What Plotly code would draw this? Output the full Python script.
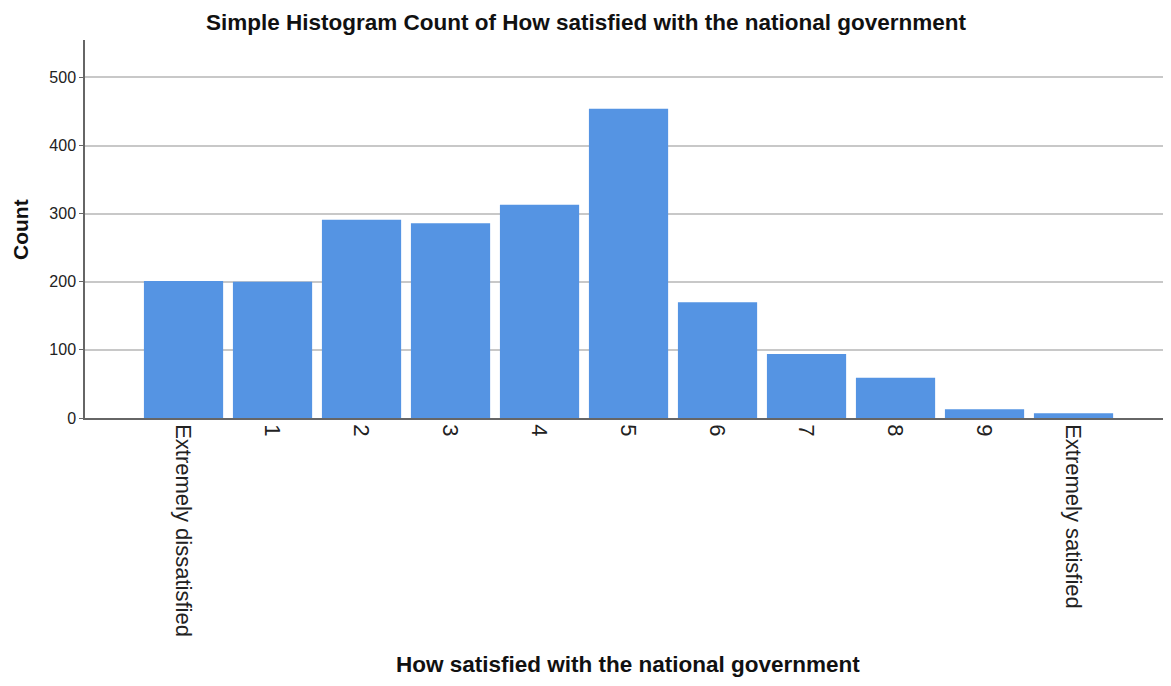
import plotly.graph_objects as go

categories = ["Extremely dissatisfied", "1", "2", "3", "4", "5", "6", "7", "8", "9", "Extremely satisfied"]
counts = [201, 200, 291, 286, 313, 454, 170, 94, 59, 13, 7]
y_ticks = [0, 100, 200, 300, 400, 500]

FW, FH = 1155, 670
L, T, B, R = 77, 32, 260, 0
PW = FW - L - R
PH = FH - T - B

fig = go.Figure(go.Bar(
    x=list(range(len(categories))),
    y=counts,
    marker=dict(color="#5594E3", line=dict(width=0)),
    width=0.89,
))

fig.update_layout(
    width=FW, height=FH,
    margin=dict(l=L, r=R, t=T, b=B),
    plot_bgcolor="white", paper_bgcolor="white",
    font=dict(family="Liberation Sans, Arial, sans-serif", color="#222"),
    title=dict(text="<b>Simple Histogram Count of How satisfied with the national government</b>",
               x=(586 - 8) / FW, xanchor="center", y=1 - 14 / FH, yanchor="middle",
               font=dict(size=22.5, color="#111")),
    showlegend=False,
)

fig.update_xaxes(
    range=[-1.107, -1.107 + PW / 89],
    tickmode="array",
    tickvals=list(range(len(categories))),
    ticktext=categories,
    tickangle=90,
    tickfont=dict(size=22, color="#222"),
    showgrid=False,
    showline=True, linecolor="#666", linewidth=1.5,
    ticks="", zeroline=False,
)
fig.update_yaxes(
    range=[0, 555],
    tickmode="array",
    tickvals=y_ticks,
    tickfont=dict(size=16, color="#222"),
    showgrid=True, gridcolor="#C8C8C8", gridwidth=1.5,
    showline=True, linecolor="#666", linewidth=1.5,
    ticks="outside", ticklen=4, tickcolor="#666",
    zeroline=False,
)

fig.add_annotation(
    text="<b>Count</b>", textangle=-90,
    xref="paper", yref="paper", x=(12 - L) / PW, y=1 - (230 - 8 - T) / PH,
    xanchor="center", yanchor="middle", showarrow=False,
    font=dict(size=21, color="#111"),
)
fig.add_annotation(
    text="<b>How satisfied with the national government</b>",
    xref="paper", yref="paper", x=(628 - 8 - L) / PW, y=-(664 - 8 - (FH - B)) / PH,
    xanchor="center", yanchor="middle", showarrow=False,
    font=dict(size=22.5, color="#111"),
)

fig.write_html("out.html")
